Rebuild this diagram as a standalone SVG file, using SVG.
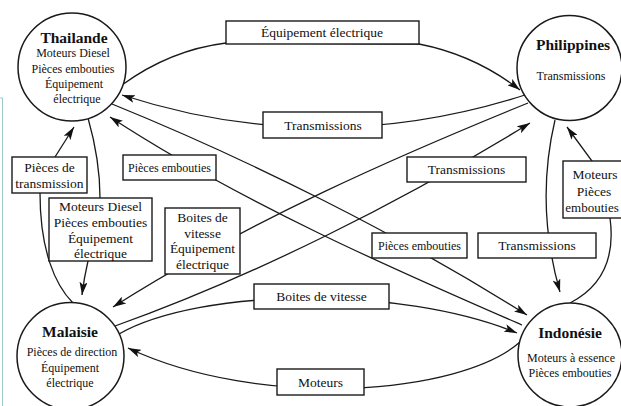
<svg xmlns="http://www.w3.org/2000/svg" width="621" height="406" viewBox="0 0 621 406">
<style>
.c{fill:none;stroke:#1a1a1a;stroke-width:1.3}
.a{marker-end:url(#arr)}
.n{fill:#fff;stroke:#1a1a1a;stroke-width:1.5}
.b{fill:#fff;stroke:#1a1a1a;stroke-width:1.4}
text{font-family:"Liberation Serif","Times New Roman",serif;fill:#111;text-anchor:middle}
.t{font-size:15.5px;font-weight:bold}
.s{font-size:12px}
.l{font-size:13.5px}
</style>
<defs>
<marker id="arr" viewBox="0 0 13 8" refX="13" refY="4" markerWidth="13" markerHeight="8" markerUnits="userSpaceOnUse" orient="auto">
<path d="M0,0 L13,4 L0,8 L3,4 z" fill="#111"/>
</marker>
</defs>
<rect width="621" height="406" fill="#fff"/>
<path d="M0,98 H2.5 V406" fill="none" stroke="#9cc8cc" stroke-width="1"/>

<g id="connectors">
<path class="c a" d="M122,85 Q170,50 226,43 L419,44 Q475,55 520,90"/>
<path class="c a" d="M525,95 Q322,160 122,95"/>
<path class="c a" d="M112,104 C250,160 400,235 527,315"/>
<path class="c a" d="M522,325 C400,272 245,205 110,117"/>
<path class="c a" d="M528,103 C400,155 250,220 113,307"/>
<path class="c a" d="M115,326 C250,278 400,203 530,123"/>
<path class="c a" d="M119,334 C200,288 400,285 517,333"/>
<path class="c a" d="M520,342 C460,395 260,410 128,348"/>
<path class="c a" d="M73,303 C55,285 40,250 40,193 L55,157 L74,127"/>
<path class="c a" d="M88,118 Q100,160 100,198 L88,261 Q84,278 82,295"/>
<path class="c a" d="M570,303 C605,285 615,255 610,218 L592,161 L567,127"/>
<path class="c a" d="M555,120 Q535,205 560,292"/>
</g>

<g id="edge-labels">
<g id="lbl-equip"><rect class="b" x="226" y="21" width="193" height="23"/><text class="l" x="322" y="37">Équipement électrique</text></g>
<g id="lbl-trans-top"><rect class="b" x="263" y="112" width="119" height="26"/><text class="l" x="323" y="130">Transmissions</text></g>
<g id="lbl-pieces-up"><rect class="b" x="123" y="155" width="93" height="25"/><text class="s" x="169.5" y="172">Pièces embouties</text></g>
<g id="lbl-piecestrans"><rect class="b" x="12" y="157" width="75" height="36"/><text class="l" x="49.5" y="172">Pièces de</text><text class="l" x="49.5" y="188">transmission</text></g>
<g id="lbl-moteursdiesel"><rect class="b" x="49" y="198" width="103" height="63"/><text class="l" x="100.5" y="211">Moteurs Diesel</text><text class="l" x="100.5" y="227">Pièces embouties</text><text class="l" x="100.5" y="243">Équipement</text><text class="l" x="100.5" y="258">électrique</text></g>
<g id="lbl-boites-eq"><rect class="b" x="165" y="208" width="75" height="66"/><text class="l" x="202.5" y="222">Boites de</text><text class="l" x="202.5" y="238">vitesse</text><text class="l" x="202.5" y="253">Équipement</text><text class="l" x="202.5" y="269">électrique</text></g>
<g id="lbl-trans-mid"><rect class="b" x="407" y="157" width="119" height="25"/><text class="l" x="466.5" y="174">Transmissions</text></g>
<g id="lbl-pieces-low"><rect class="b" x="372" y="233" width="95" height="25"/><text class="s" x="419.5" y="250">Pièces embouties</text></g>
<g id="lbl-trans-right"><rect class="b" x="478" y="233" width="118" height="25"/><text class="l" x="537" y="250">Transmissions</text></g>
<g id="lbl-moteurs-pieces"><rect class="b" x="563" y="161" width="70" height="57"/><text class="l" x="595" y="179">Moteurs</text><text class="l" x="594" y="196">Pièces</text><text class="l" x="592" y="212" style="font-size:13px">embouties</text></g>
<g id="lbl-boites"><rect class="b" x="254" y="284" width="135" height="25"/><text class="l" x="321.5" y="301">Boites de vitesse</text></g>
<g id="lbl-moteurs"><rect class="b" x="277" y="369" width="87" height="26"/><text class="l" x="320.5" y="387">Moteurs</text></g>
</g>

<g id="thailande"><circle class="n" cx="72" cy="67" r="54"/><text class="t" x="74" y="43">Thailande</text><text class="s" x="73" y="57">Moteurs Diesel</text><text class="s" x="73" y="73">Pièces embouties</text><text class="s" x="74" y="88">Équipement</text><text class="s" x="77" y="103">électrique</text></g>
<g id="philippines"><circle class="n" cx="569.5" cy="68" r="52.5"/><text class="t" x="573" y="50">Philippines</text><text class="s" x="571" y="80">Transmissions</text></g>
<g id="malaisie"><circle class="n" cx="70.5" cy="356" r="53.5"/><text class="t" x="70" y="337">Malaisie</text><text class="s" x="72" y="356">Pièces de direction</text><text class="s" x="70" y="372">Équipement</text><text class="s" x="70" y="387">électrique</text></g>
<g id="indonesie"><circle class="n" cx="570" cy="355" r="52"/><text class="t" x="570" y="338">Indonésie</text><text class="s" x="571" y="362">Moteurs à essence</text><text class="s" x="570" y="377">Pièces embouties</text></g>
</svg>
